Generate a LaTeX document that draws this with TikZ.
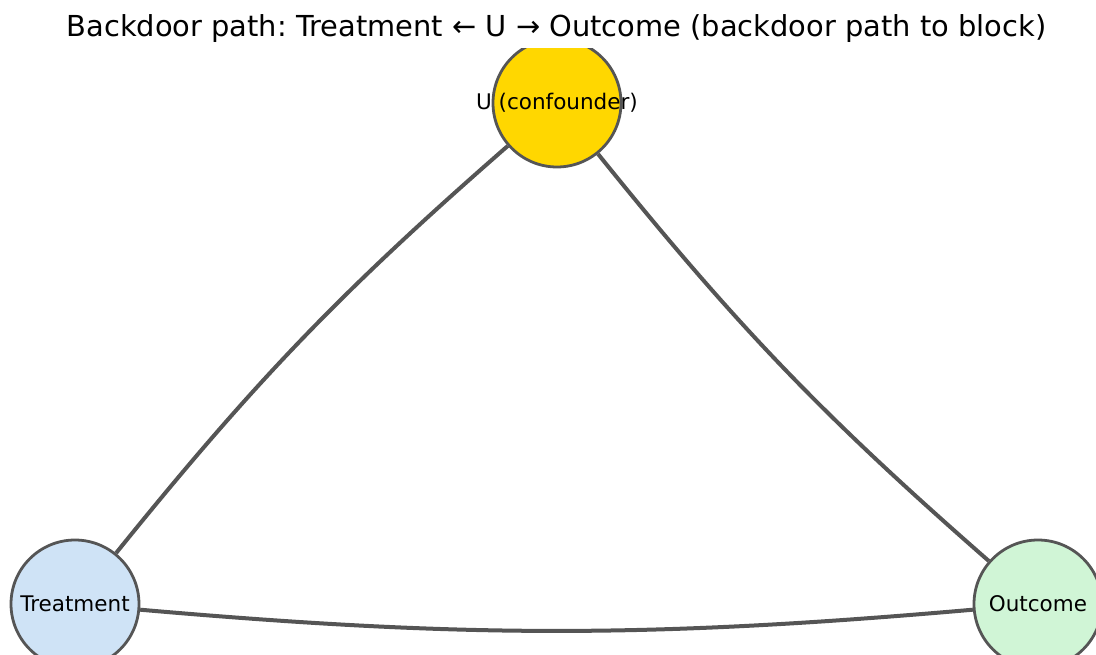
\documentclass[tikz,border=0pt]{standalone}
\usepackage{fontspec}
\setmainfont{DejaVu Sans}
\frenchspacing
\definecolor{edgegray}{HTML}{555555}
\definecolor{ufill}{HTML}{FFD700}
\definecolor{tfill}{HTML}{CFE3F6}
\definecolor{ofill}{HTML}{D0F5D6}
\tikzset{
  varnode/.style={circle, draw=edgegray, line width=2.8pt, minimum size=128pt, inner sep=0pt},
  varlabel/.style={font=\fontsize{21.5}{24}\selectfont, text=black, inner sep=0pt},
  link/.style={draw=edgegray, line width=4pt}
}
\begin{document}
\begin{tikzpicture}[x=1pt,y=1pt]
\useasboundingbox (0,0) rectangle (1096,654);
\node[anchor=base, font=\fontsize{28.9}{32}\selectfont] (title) at (556.5,617) {Backdoor path: Treatment ← U → Outcome (backdoor path to block)};
\begin{scope}
\clip (0,0) rectangle (1096,605);
\node[varnode, fill=ufill] (U) at (557,551) {};
\node[varnode, fill=tfill] (T) at (75,50) {};
\node[varnode, fill=ofill] (O) at (1038,50) {};
\end{scope}
\node[varlabel] (Ulab) at (U.center) {U (confounder)};
\node[varlabel] (Tlab) at (T.center) {Treatment};
\node[varlabel] (Olab) at (O.center) {Outcome};
\draw[link] (U) to[bend right=5] (T);
\draw[link] (U) to[bend right=5] (O);
\draw[link] (T) to[bend right=5] (O);
\end{tikzpicture}
\end{document}
